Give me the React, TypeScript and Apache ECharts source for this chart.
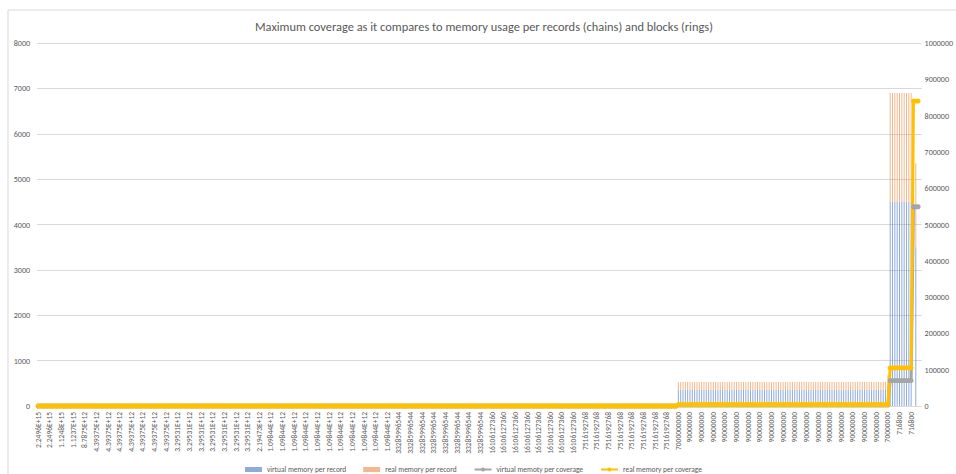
import React, { useEffect, useRef } from "react";
import * as echarts from "echarts";

// Category names as [label, number of consecutive records carrying it]
const categoryRuns: [string, number][] = [
  ["2.2496E+15", 10],
  ["1.1248E+15", 5],
  ["1.1237E+15", 5],
  ["8.7875E+12", 5],
  ["4.39375E+12", 35],
  ["3.29531E+12", 35],
  ["2.19473E+12", 5],
  ["1.09844E+12", 55],
  ["33285996544", 40],
  ["16106127360", 40],
  ["7516192768", 40],
  ["7000000000", 5],
  ["90000000", 85],
  ["70000000", 1],
  ["716800", 14],
];

// Series values as [value, run length]
const virtualPerRecordRuns: [number, number][] = [
  [0, 275], [350, 90], [460, 1], [4500, 10], [0, 1], [3500, 1], [0, 2],
];
const realPerRecordRuns: [number, number][] = [
  [0, 275], [180, 90], [220, 1], [2400, 10], [0, 1], [1850, 1], [0, 2],
];
const virtualPerCoverageRuns: [number | null, number][] = [
  [0, 275], [2500, 91], [70000, 10], [549000, 3], [null, 1],
];
const realPerCoverageRuns: [number | null, number][] = [
  [0, 275], [4000, 91], [105000, 10], [840000, 3], [null, 1],
];

const leftTicks = { min: 0, max: 8000, interval: 1000 };
const rightTicks = { min: 0, max: 1000000, interval: 100000 };

function expand<T>(runs: [T, number][]): T[] {
  const out: T[] = [];
  runs.forEach(([v, n]) => {
    for (let i = 0; i < n; i++) out.push(v);
  });
  return out;
}

const FONT = "Carlito, 'Liberation Sans Narrow', 'Liberation Sans', sans-serif";
const TEXT = "#595959";
const plain = (v: number) => String(v);

export default function App() {
  const ref = useRef<HTMLDivElement>(null);

  useEffect(() => {
    if (!ref.current) return;
    const chart = echarts.init(ref.current, undefined, { renderer: "svg" });
    const categories = expand(categoryRuns);

    chart.setOption({
      animation: false,
      backgroundColor: "#ffffff",
      textStyle: { fontFamily: FONT },
      title: {
        text: "Maximum coverage as it compares to memory usage per records (chains) and blocks (rings)",
        left: 250,
        top: 15,
        textStyle: { fontFamily: FONT, fontSize: 12.4, fontWeight: "normal", color: TEXT },
      },
      graphic: [
        {
          type: "rect",
          shape: { x: 8, y: 10, width: 960, height: 480 },
          style: { fill: "none", stroke: "#d9d9d9", lineWidth: 1 },
          silent: true,
        },
      ],
      legend: {
        left: 240,
        top: 460,
        itemWidth: 17,
        itemHeight: 5,
        itemGap: 17,
        textStyle: { fontFamily: FONT, fontSize: 7.4, color: TEXT, lineHeight: 9 },
        data: [
          { name: "virtual memory per record", icon: "rect" },
          { name: "real memory per record", icon: "rect" },
          "virtual memoty per coverage",
          "real memory per coverage",
        ],
      },
      grid: { left: 37, right: 23, top: 43, bottom: 68, containLabel: false },
      xAxis: {
        type: "category",
        data: categories,
        boundaryGap: true,
        axisLine: { show: true, lineStyle: { color: "#d9d9d9" } },
        axisTick: { show: false },
        axisLabel: {
          interval: 4,
          rotate: 90,
          fontSize: 7.5,
          color: TEXT,
          fontFamily: FONT,
          margin: 6,
        },
      },
      yAxis: [
        {
          type: "value",
          ...leftTicks,
          axisLine: { show: false },
          axisTick: { show: false },
          splitLine: { lineStyle: { color: "#d9d9d9" } },
          axisLabel: { fontSize: 8, color: TEXT, fontFamily: FONT, margin: 7, formatter: plain },
        },
        {
          type: "value",
          ...rightTicks,
          position: "right",
          axisLine: { show: false },
          axisTick: { show: false },
          splitLine: { show: false },
          axisLabel: { fontSize: 8, color: TEXT, fontFamily: FONT, margin: 3, formatter: plain },
        },
      ],
      series: [
        {
          name: "virtual memory per record",
          type: "bar",
          stack: "record",
          yAxisIndex: 0,
          barWidth: "40%",
          itemStyle: { color: "#4472C4", opacity: 0.6 },
          data: expand(virtualPerRecordRuns),
        },
        {
          name: "real memory per record",
          type: "bar",
          stack: "record",
          yAxisIndex: 0,
          barWidth: "40%",
          itemStyle: { color: "#ED7D31", opacity: 0.55 },
          data: expand(realPerRecordRuns),
        },
        {
          name: "virtual memoty per coverage",
          type: "line",
          yAxisIndex: 1,
          clip: false,
          symbol: "circle",
          symbolSize: 5,
          showAllSymbol: true,
          lineStyle: { color: "#A5A5A5", width: 3 },
          itemStyle: { color: "#A5A5A5" },
          data: expand(virtualPerCoverageRuns),
        },
        {
          name: "real memory per coverage",
          type: "line",
          yAxisIndex: 1,
          clip: false,
          symbol: "circle",
          symbolSize: 5,
          showAllSymbol: true,
          lineStyle: { color: "#FFC000", width: 3 },
          itemStyle: { color: "#FFC000" },
          data: expand(realPerCoverageRuns),
        },
      ],
    });

    return () => chart.dispose();
  }, []);

  return (
    <div
      ref={ref}
      style={{ position: "fixed", left: 0, top: 0, width: 956, height: 474 }}
    />
  );
}
